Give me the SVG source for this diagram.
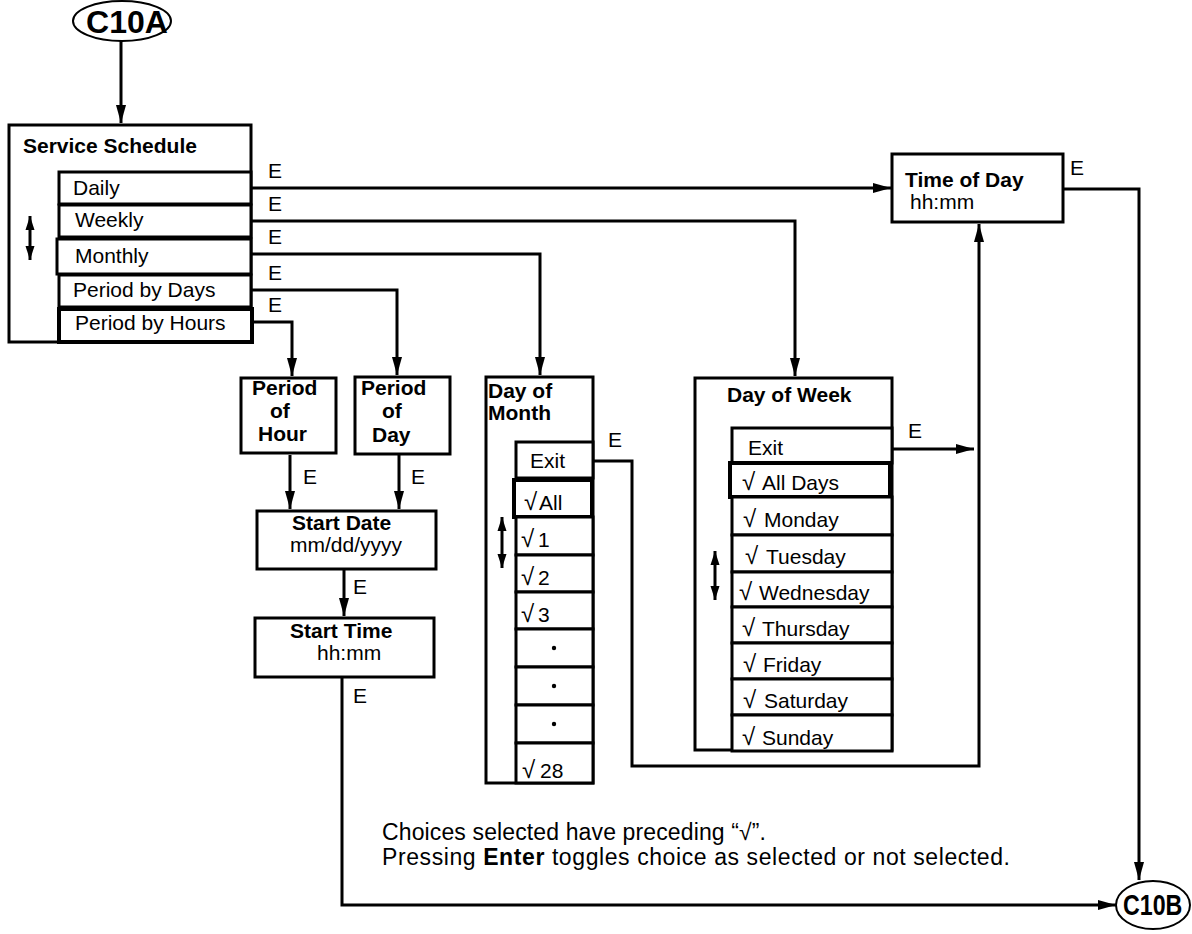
<svg xmlns="http://www.w3.org/2000/svg" width="1192" height="934" viewBox="0 0 1192 934">
<style>
text{font-family:"Liberation Sans",Arial,sans-serif;font-size:21px;fill:#000}
.b{font-weight:bold}
.big{font-weight:bold;font-size:32px}
.big2{font-weight:bold;font-size:29px}
.box{fill:#fff;stroke:#000;stroke-width:3}
.thick{fill:#fff;stroke:#000;stroke-width:4}
.ln{fill:none;stroke:#000;stroke-width:3}
.ar{fill:none;stroke:#000;stroke-width:3;marker-end:url(#ah)}
.dbl{fill:none;stroke:#000;stroke-width:3;marker-start:url(#sh);marker-end:url(#sh)}
.rt{font-size:24px}
.note{font-size:23px}
</style>
<defs>
<marker id="ah" markerUnits="userSpaceOnUse" markerWidth="20" markerHeight="12" refX="18" refY="6" orient="auto"><path d="M0,1 L18,6 L0,11 z" fill="#000"/></marker>
<marker id="sh" markerUnits="userSpaceOnUse" markerWidth="16" markerHeight="12" refX="14" refY="6" orient="auto-start-reverse"><path d="M0,1.5 L14,6 L0,10.5 z" fill="#000"/></marker>
</defs>

<g id="connectors">
<path class="ar" d="M121,41 V123"/>
<path class="ar" d="M251,188 H891"/>
<path class="ar" d="M251,221 H795 V376"/>
<path class="ar" d="M251,254 H540 V375"/>
<path class="ar" d="M251,290 H397 V375"/>
<path class="ar" d="M252,322 H292 V376"/>
<path class="ar" d="M290,455 V509"/>
<path class="ar" d="M399,455 V509"/>
<path class="ar" d="M344,569 V616"/>
<path class="ar" d="M342,677 V905 H1116"/>
<path class="ar" d="M1063,189 H1139 V880"/>
<path class="ar" d="M892,449 H974"/>
<path class="ar" d="M593,461 H632 V766 H979 V224"/>
<text x="268" y="178">E</text>
<text x="268" y="211">E</text>
<text x="268" y="244">E</text>
<text x="268" y="280">E</text>
<text x="268" y="312">E</text>
<text x="303" y="484">E</text>
<text x="411" y="484">E</text>
<text x="353" y="594">E</text>
<text x="353" y="703">E</text>
<text x="1070" y="175">E</text>
<text x="908" y="438">E</text>
<text x="608" y="447">E</text>
</g>

<g id="c10a">
<ellipse cx="122" cy="21" rx="49" ry="20" fill="#fff" stroke="#000" stroke-width="2"/>
<text class="big" x="127" y="33" text-anchor="middle">C10A</text>
</g>

<g id="c10b">
<ellipse cx="1153" cy="905" rx="37" ry="24" fill="#fff" stroke="#000" stroke-width="2"/>
<text class="big2" transform="translate(1123,915) scale(0.8,1)">C10B</text>
</g>

<g id="service-schedule">
<rect class="box" x="9" y="125" width="242" height="217"/>
<text class="b" x="23" y="153">Service Schedule</text>
<path class="dbl" d="M30,216 V260"/>
<rect class="box" x="59" y="172" width="192" height="32"/>
<text x="73" y="195">Daily</text>
<rect class="box" x="59" y="205" width="192" height="32"/>
<text x="75" y="227">Weekly</text>
<rect class="box" x="57" y="239" width="194" height="35"/>
<text x="75" y="263">Monthly</text>
<rect class="box" x="59" y="275" width="192" height="32"/>
<text x="73" y="297">Period by Days</text>
<rect class="thick" x="59" y="309" width="193" height="33"/>
<text x="75" y="330">Period by Hours</text>
</g>

<g id="time-of-day">
<rect class="box" x="892" y="154" width="171" height="68"/>
<text class="b" x="905" y="187">Time of Day</text>
<text x="910" y="209">hh:mm</text>
</g>

<g id="period-of-hour">
<rect class="box" x="241" y="378" width="95" height="75"/>
<text class="b" x="252" y="395">Period</text>
<text class="b" x="270" y="418">of</text>
<text class="b" x="258" y="441">Hour</text>
</g>

<g id="period-of-day">
<rect class="box" x="355" y="377" width="95" height="77"/>
<text class="b" x="361" y="395">Period</text>
<text class="b" x="382" y="418">of</text>
<text class="b" x="372" y="442">Day</text>
</g>

<g id="start-date">
<rect class="box" x="257" y="511" width="179" height="58"/>
<text class="b" x="292" y="530">Start Date</text>
<text x="290" y="552">mm/dd/yyyy</text>
</g>

<g id="start-time">
<rect class="box" x="255" y="618" width="179" height="59"/>
<text class="b" x="290" y="638">Start Time</text>
<text x="317" y="660">hh:mm</text>
</g>

<g id="day-of-month">
<rect class="box" x="486" y="377" width="107" height="406"/>
<text class="b" x="488" y="398">Day of</text>
<text class="b" x="488" y="420">Month</text>
<path class="dbl" d="M502,517 V568"/>
<rect class="box" x="516" y="442" width="77" height="36"/>
<text x="530" y="468">Exit</text>
<rect class="thick" x="514" y="480" width="78" height="37"/>
<text x="524" y="510"><tspan class="rt">√</tspan><tspan x="539">All</tspan></text>
<rect class="box" x="516" y="517" width="77" height="38"/>
<text x="521" y="547"><tspan class="rt">√</tspan><tspan x="538">1</tspan></text>
<rect class="box" x="516" y="555" width="77" height="37"/>
<text x="521" y="585"><tspan class="rt">√</tspan><tspan x="538">2</tspan></text>
<rect class="box" x="516" y="592" width="77" height="37"/>
<text x="521" y="622"><tspan class="rt">√</tspan><tspan x="538">3</tspan></text>
<rect class="box" x="516" y="629" width="77" height="38"/>
<circle cx="554" cy="648" r="2.2"/>
<rect class="box" x="516" y="667" width="77" height="38"/>
<circle cx="554" cy="686" r="2.2"/>
<rect class="box" x="516" y="705" width="77" height="38"/>
<circle cx="554" cy="724" r="2.2"/>
<rect class="box" x="516" y="743" width="77" height="40"/>
<text x="522" y="778"><tspan class="rt">√</tspan><tspan x="540">28</tspan></text>
</g>

<g id="day-of-week">
<rect class="box" x="695" y="378" width="197" height="372"/>
<text class="b" x="727" y="402">Day of Week</text>
<path class="dbl" d="M715,551 V600"/>
<rect class="box" x="732" y="428" width="160" height="35"/>
<text x="748" y="455">Exit</text>
<rect class="thick" x="730" y="463" width="160" height="34"/>
<text x="742" y="490"><tspan class="rt">√</tspan><tspan x="762">All Days</tspan></text>
<rect class="box" x="732" y="497" width="160" height="38"/>
<text x="743" y="527"><tspan class="rt">√</tspan><tspan x="764">Monday</tspan></text>
<rect class="box" x="732" y="535" width="160" height="37"/>
<text x="745" y="564"><tspan class="rt">√</tspan><tspan x="766">Tuesday</tspan></text>
<rect class="box" x="732" y="572" width="160" height="35"/>
<text x="739" y="600"><tspan class="rt">√</tspan><tspan x="759">Wednesday</tspan></text>
<rect class="box" x="732" y="607" width="160" height="36"/>
<text x="742" y="636"><tspan class="rt">√</tspan><tspan x="762">Thursday</tspan></text>
<rect class="box" x="732" y="643" width="160" height="36"/>
<text x="743" y="672"><tspan class="rt">√</tspan><tspan x="763">Friday</tspan></text>
<rect class="box" x="732" y="679" width="160" height="36"/>
<text x="743" y="708"><tspan class="rt">√</tspan><tspan x="764">Saturday</tspan></text>
<rect class="box" x="732" y="715" width="160" height="36"/>
<text x="742" y="745"><tspan class="rt">√</tspan><tspan x="762">Sunday</tspan></text>
</g>

<g id="note">
<text class="note" x="382" y="840" textLength="384">Choices selected have preceding “√”.</text>
<text class="note" x="382" y="865" textLength="628">Pressing <tspan class="b">Enter</tspan> toggles choice as selected or not selected.</text>
</g>
</svg>
